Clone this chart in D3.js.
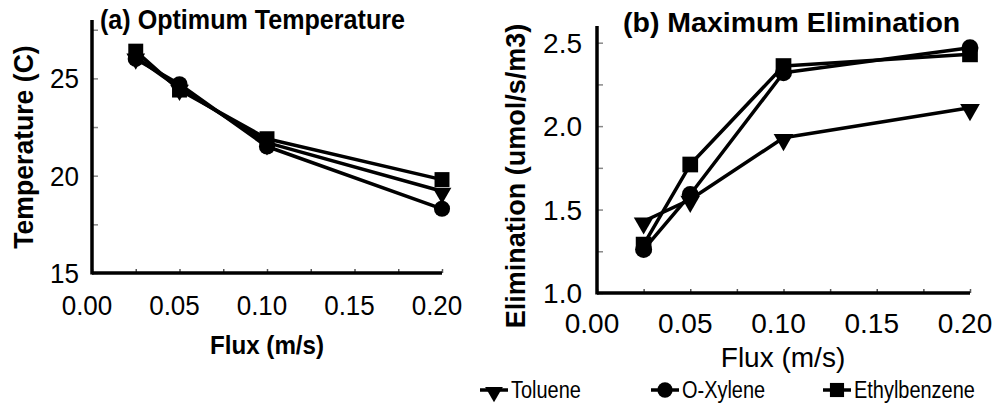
<!DOCTYPE html>
<html><head><meta charset="utf-8">
<script src="https://cdn.jsdelivr.net/npm/d3@7"></script>
<style>body{margin:0;background:#fff}svg{display:block}</style>
</head><body>
<svg id="c" width="998" height="406"></svg>
<script>
// ---- data ----
const flux = [0.025, 0.05, 0.1, 0.2];
const seriesNames = ["Toluene", "O-Xylene", "Ethylbenzene"];
const tempToluene = [26.1, 24.5, 21.7, 19.2];
const tempOXylene = [26.0, 24.7, 21.5, 18.3];
const tempEthyl   = [26.4, 24.4, 21.9, 19.8];
const elimToluene = [1.43, 1.56, 1.93, 2.11];
const elimOXylene = [1.26, 1.59, 2.32, 2.47];
const elimEthyl   = [1.29, 1.77, 2.36, 2.43];
const xTickLabels = ["0.00", "0.05", "0.10", "0.15", "0.20"];
const tempTickLabels = ["15", "20", "25"];
const elimTickLabels = ["1.0", "1.5", "2.0", "2.5"];
const titleA = "(a) Optimum Temperature";
const titleB = "(b) Maximum Elimination";

const svg = d3.select("#c");
const FONT = "'Liberation Sans', Arial, Helvetica, sans-serif";

function txt(x, y, s, o) {
  o = o || {};
  svg.append("text")
    .attr("transform", `translate(${x},${y}) rotate(${o.rot || 0}) scale(${o.sx || 1},${o.sy || 1})`)
    .attr("text-anchor", o.anchor || "middle")
    .attr("dy", o.dy || 0)
    .style("font-family", FONT)
    .style("font-size", (o.size || 20) + "px")
    .style("font-weight", o.bold ? "bold" : "normal")
    .attr("fill", "#000")
    .text(s);
}

const symbols = [d3.symbolTriangle, d3.symbolCircle, d3.symbolSquare];
const symSize = [160, 215, 235];

function marker(g, i, x, y, k) {
  k = k || 1;
  const p = g.append("path")
    .attr("d", d3.symbol(symbols[i], symSize[i] * k)())
    .attr("fill", "#000");
  if (i === 0) p.attr("transform", `translate(${x},${y + 2}) rotate(180)`);
  else p.attr("transform", `translate(${x},${y})`);
}

function panel(cfg) {
  const x = d3.scaleLinear([0, 0.2], cfg.xr);
  const y = d3.scaleLinear(cfg.yd, cfg.yr);
  const g = svg.append("g");
  // ticks
  const xt = d3.range(0, 9).map(i => i * 0.025);
  g.append("g").attr("transform", `translate(0,${cfg.yr[0]})`)
    .call(d3.axisBottom(x).tickValues(xt).tickSize(-4).tickSizeOuter(0).tickFormat(""))
    .call(a => a.select(".domain").remove())
    .call(a => a.selectAll(".tick line").attr("stroke", "#555").attr("stroke-width", 1.5));
  g.append("g").attr("transform", `translate(${cfg.xr[0]},0)`)
    .call(d3.axisLeft(y).tickValues(cfg.yt).tickSize(-6).tickSizeOuter(0).tickFormat(""))
    .call(a => a.select(".domain").remove())
    .call(a => a.selectAll(".tick line").attr("stroke", "#888").attr("stroke-width", 1.5));
  // axis lines
  g.append("line").attr("x1", x(0)).attr("x2", x(0.2)).attr("y1", y(cfg.yd[0])).attr("y2", y(cfg.yd[0]))
    .attr("stroke", "#000").attr("stroke-width", 3.5);
  g.append("line").attr("x1", x(0)).attr("x2", x(0)).attr("y1", y(cfg.yd[0]) + 1.5).attr("y2", y(cfg.yd[1]))
    .attr("stroke", "#000").attr("stroke-width", 3.5);
  // tick labels
  xTickLabels.forEach(l => txt(x(+l) - 5, cfg.xlabY, l, {size: 28, sx: cfg.sx}));
  cfg.ylabels.forEach(l => txt(cfg.ylabX, y(+l), l, {size: 28, sx: cfg.sx, anchor: "end", dy: "0.36em"}));
  // lines + markers
  const line = d3.line().x((d, i) => x(flux[i])).y(d => y(d));
  cfg.series.forEach((s, si) => {
    g.append("path").attr("d", line(s)).attr("fill", "none").attr("stroke", "#000")
      .attr("stroke-width", 3.5).attr("stroke-linejoin", "round");
  });
  cfg.series.forEach((s, si) => {
    s.forEach((v, i) => marker(g, si, x(flux[i]), y(v), cfg.mk));
  });
  return {x, y};
}

panel({
  xr: [92, 442], yd: [15, 28], yr: [273, 20],
  yt: [15, 17.5, 20, 22.5, 25, 27.5],
  ylabels: tempTickLabels, ylabX: 79, xlabY: 315, sx: 0.93, mk: 0.95,
  series: [tempToluene, tempOXylene, tempEthyl]
});
panel({
  xr: [597, 970], yd: [1, 2.6], yr: [293, 26],
  yt: [1, 1.25, 1.5, 1.75, 2, 2.25, 2.5],
  ylabels: elimTickLabels, ylabX: 582, xlabY: 333, sx: 1, mk: 1.05,
  series: [elimToluene, elimOXylene, elimEthyl]
});

// titles
txt(100, 29, titleA, {size: 27, bold: true, anchor: "start", sx: 0.93});
txt(623, 32, titleB, {size: 28.5, bold: true, anchor: "start"});
// axis titles
txt(267, 354, "Flux (m/s)", {size: 26, bold: true, sx: 0.93});
txt(783, 367, "Flux (m/s)", {size: 28});
txt(33, 147, "Temperature (C)", {size: 28, bold: true, rot: -90, sx: 0.95});
txt(525, 176, "Elimination (umol/s/m3)", {size: 27, bold: true, rot: -90});

// legend
const legX = [480, 651, 823];
const legY = 390;
const lg = svg.append("g");
seriesNames.forEach((n, i) => {
  lg.append("line").attr("x1", legX[i]).attr("x2", legX[i] + 28).attr("y1", legY).attr("y2", legY)
    .attr("stroke", "#000").attr("stroke-width", 3.5);
  marker(lg, i, legX[i] + 14, legY, 0.85);
  txt(legX[i] + 31, legY, n, {size: 21, anchor: "start", dy: "0.36em", sx: 0.95, sy: 1.1});
});
</script>
</body></html>
